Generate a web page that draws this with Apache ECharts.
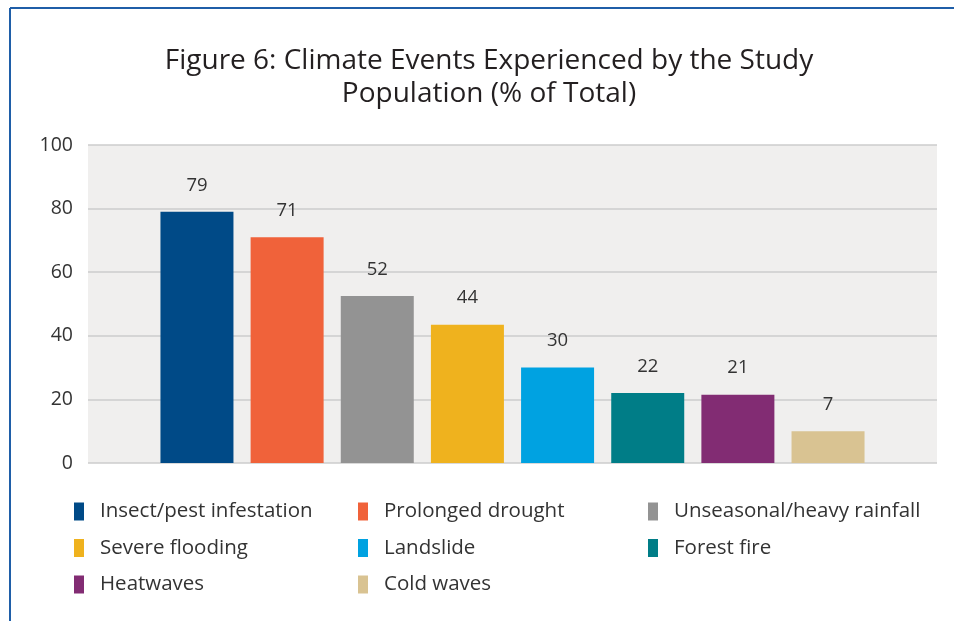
<!DOCTYPE html>
<html>
<head>
<meta charset="utf-8">
<script src="https://cdn.jsdelivr.net/npm/echarts@6/dist/echarts.min.js"></script>
<style>
html,body{margin:0;padding:0;background:#fff;}
#c{width:954px;height:621px;}
</style>
</head>
<body>
<div id="c"></div>
<script>
var categories = ["Insect/pest infestation","Prolonged drought","Unseasonal/heavy rainfall","Severe flooding","Landslide","Forest fire","Heatwaves","Cold waves"];
var values = [79,71,52.5,43.5,30,22,21.5,10];
var valueLabels = ["79","71","52","44","30","22","21","7"];
var colors = ["#004a87","#f0623a","#939393","#efb21e","#00a2e1","#007d87","#822c73","#d9c392"];
var yTicks = {min:0,max:100,interval:20};

var FONT = "Open Sans";
var chart = echarts.init(document.getElementById('c'));
var series = categories.map(function(name,i){
  return {
    name:name, type:'bar', data:[values[i]],
    barWidth:73, barGap:'23.5%',
    itemStyle:{color:colors[i]},
    label:{show:true, position:'top', distance:17, color:'#333', fontSize:18.5, fontFamily:FONT,
      formatter:function(){return valueLabels[i];}},
    emphasis:{disabled:true}
  };
});
function legendCol(left, idxs){
  return {
    orient:'vertical', left:left, top:501, padding:0, itemGap:15.5, itemWidth:10, itemHeight:18,
    icon:'rect', selectedMode:false,
    textStyle:{fontSize:20.5, lineHeight:20, color:'#333', fontFamily:FONT, padding:[0,0,0,11]},
    data:idxs.map(function(k){return categories[k];})
  };
}
chart.setOption({
  animation:false,
  title:{text:'Figure 6: Climate Events Experienced by the Study\nPopulation (% of Total)',
    left:489, top:45, padding:0, textAlign:'center',
    textStyle:{fontSize:28, fontWeight:'normal', color:'#231f20', fontFamily:FONT, lineHeight:33}},
  graphic:[
    {type:'line', shape:{x1:10,y1:8,x2:954,y2:8}, style:{stroke:'#1f5ea8', lineWidth:2}},
    {type:'line', shape:{x1:10,y1:8,x2:10,y2:621}, style:{stroke:'#1f5ea8', lineWidth:2}}
  ],
  legend:[legendCol(74,[0,3,6]), legendCol(358,[1,4,7]), legendCol(648,[2,5])],
  grid:{left:88, right:17, top:145, bottom:158, show:true, backgroundColor:'#f0efee', borderWidth:0},
  xAxis:{type:'category', data:[''], axisLine:{show:false}, axisTick:{show:false}, axisLabel:{show:false}},
  yAxis:{type:'value', min:yTicks.min, max:yTicks.max, interval:yTicks.interval,
    axisLine:{show:false}, axisTick:{show:false},
    axisLabel:{fontSize:19.5, color:'#333', margin:15, fontFamily:FONT},
    splitLine:{lineStyle:{color:'#cccccc', width:1.5}}},
  series:series
});
</script>
</body>
</html>
